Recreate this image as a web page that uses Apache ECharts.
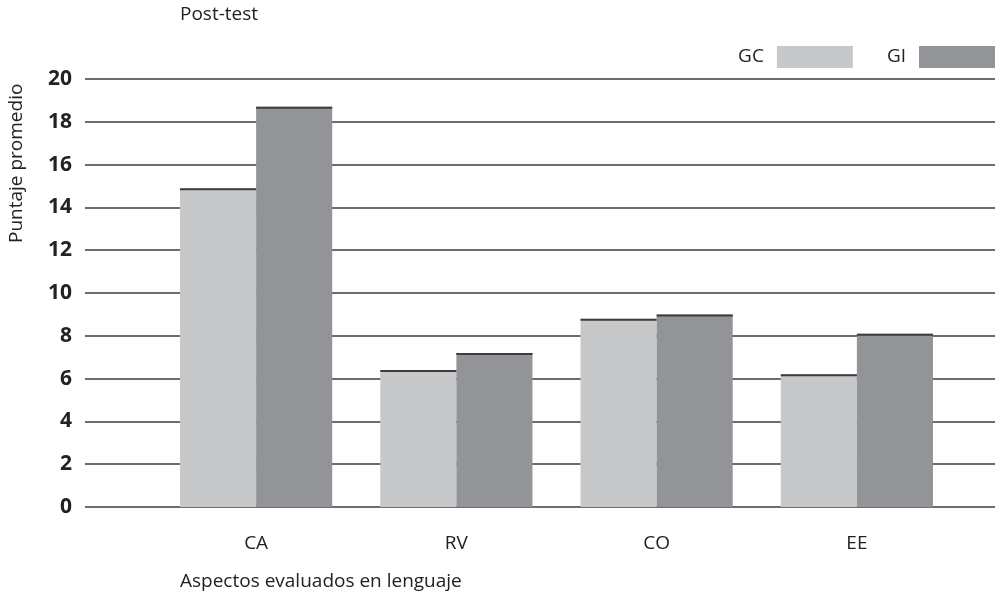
<!DOCTYPE html>
<html>
<head>
<meta charset="utf-8">
<script src="https://cdn.jsdelivr.net/npm/echarts@6/dist/echarts.min.js"></script>
<style>
  html, body { margin: 0; padding: 0; background: #fff; }
  #chart { width: 995px; height: 598px; }
</style>
</head>
<body>
<div id="chart"></div>
<script>
// data
const categories = ["CA", "RV", "CO", "EE"];
const gcValues = [14.9, 6.4, 8.8, 6.2];
const giValues = [18.7, 7.2, 9.0, 8.1];
const yTicks = { min: 0, max: 20, interval: 2 };

const font = "'Open Sans', 'Noto Sans', sans-serif";
const gcColor = "#c7c8ca";
const giColor = "#939498";
const lineColor = "#3c3c3c";

const chart = echarts.init(document.getElementById('chart'), null, {renderer: 'canvas'});

const barCommon = {
    xAxisIndex: 1,
    yAxisIndex: 1,
    barGap: "0%",
    barCategoryGap: "24%",
    animation: false
};

const option = {
    animation: false,
    textStyle: {fontFamily: font},
    legend: {
        right: 0,
        top: 46,
        padding: 0,
        itemWidth: 76,
        itemHeight: 22,
        itemGap: 34,
        align: "right",
        icon: "rect",
        data: ["GC", "GI"],
        textStyle: {fontSize: 19, color: "#222", fontFamily: font, padding: [0, 8, 0, 0]}
    },
    grid: [
        {left: 85, right: 0, top: 79, bottom: 91},
        {left: 156, right: 38, top: 79, bottom: 91}
    ],
    xAxis: [
        {type: "value", gridIndex: 0, show: false, min: 0, max: 1},
        {
            type: "category",
            gridIndex: 1,
            data: categories,
            axisLine: {show: false},
            axisTick: {show: false},
            axisLabel: {fontSize: 19, color: "#222", margin: 27, fontFamily: font}
        }
    ],
    yAxis: [
        {
            type: "value",
            gridIndex: 0,
            min: yTicks.min,
            max: yTicks.max,
            interval: yTicks.interval,
            axisLine: {show: false},
            axisTick: {show: false},
            splitLine: {lineStyle: {color: lineColor, width: 1.6}},
            axisLabel: {fontSize: 21, fontWeight: "bold", color: "#222", margin: 13, fontFamily: font}
        },
        {
            type: "value",
            gridIndex: 1,
            min: yTicks.min,
            max: yTicks.max,
            interval: yTicks.interval,
            show: false
        }
    ],
    graphic: [
        {type: "text", left: 180, top: 5, style: {text: "Post-test", fontSize: 19, fill: "#222", fontFamily: font}},
        {type: "text", left: 180, top: 572, style: {text: "Aspectos evaluados en lenguaje", fontSize: 19, fill: "#222", fontFamily: font}},
        {
            type: "text", x: 7, y: 243, rotation: Math.PI / 2,
            style: {text: "Puntaje promedio", fontSize: 19, fill: "#222", fontFamily: font}
        }
    ],
    series: [
        Object.assign({type: "bar", name: "GC", data: gcValues, itemStyle: {color: gcColor}}, barCommon),
        Object.assign({type: "bar", name: "GI", data: giValues, itemStyle: {color: giColor}}, barCommon),
        Object.assign({
            type: "pictorialBar", name: "GC top", data: gcValues,
            symbol: "rect", symbolSize: ["100%", 2], symbolPosition: "end",
            itemStyle: {color: lineColor}, z: 5
        }, barCommon),
        Object.assign({
            type: "pictorialBar", name: "GI top", data: giValues,
            symbol: "rect", symbolSize: ["100%", 2], symbolPosition: "end",
            itemStyle: {color: lineColor}, z: 5
        }, barCommon)
    ]
};
chart.setOption(option);
</script>
</body>
</html>
